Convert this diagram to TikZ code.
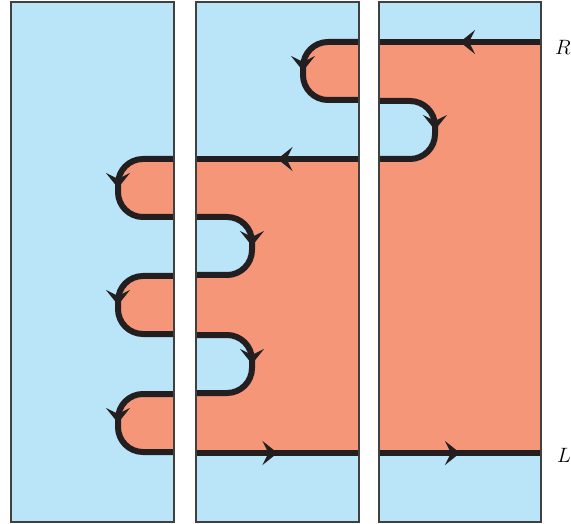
\documentclass[tikz,border=0pt]{standalone}
\usetikzlibrary{arrows.meta,decorations.markings}

\definecolor{skyblue}{RGB}{186,228,248}
\definecolor{salmon}{RGB}{246,150,121}
\definecolor{curveblack}{RGB}{35,31,32}

% one U-turn of the curve: start on a strip edge at (#1,#2), bulge 56 wide in direction #3
\newcommand\uturn[3]{%
    (#1,#2) -- (#1+#3*31,#2)
    .. controls (#1+#3*44.8,#2) and (#1+#3*56,#2+11.2) .. (#1+#3*56,#2+25)
    -- (#1+#3*56,#2+33)
    .. controls (#1+#3*56,#2+46.8) and (#1+#3*44.8,#2+58) .. (#1+#3*31,#2+58)
    -- (#1,#2+58)}

\begin{document}
\begin{tikzpicture}[
        x=1pt, y=-1pt,
        strip/.style={draw=black!75, line width=1.5pt},
        curve/.style={
            curveblack, line width=6pt,
            postaction={decorate},
            decoration={markings, mark=at position 0.5 with
                {\arrow{Stealth[length=15pt, width=24pt, inset=6pt]}}}
        },
        label/.style={font=\huge}
    ]
        \useasboundingbox (0,0) rectangle (571,524);

        % strips
        \foreach \x/\w in {11/163, 196/163, 379/162} {
            \fill[skyblue] (\x,2) rectangle ++(\w,520);
        }

        % regions
        \fill[salmon] (379,42) rectangle (541,453);
        \fill[skyblue] \uturn{379}{101}{1} -- cycle;
        \fill[salmon] (196,159) rectangle (359,453);
        \fill[salmon] \uturn{359}{42}{-1} -- cycle;
        \foreach \y in {217,335} {
            \fill[skyblue] \uturn{196}{\y}{1} -- cycle;
        }
        \foreach \y in {159,276,394} {
            \fill[salmon] \uturn{174}{\y}{-1} -- cycle;
        }

        % the curve
        \draw[curve] (541,42) -- (379,42);
        \draw[curve] \uturn{359}{42}{-1};
        \draw[curve] \uturn{379}{101}{1};
        \draw[curve] (359,159) -- (196,159);
        \foreach \y in {159,276,394} {
            \draw[curve] \uturn{174}{\y}{-1};
        }
        \foreach \y in {217,335} {
            \draw[curve] \uturn{196}{\y}{1};
        }
        \draw[curve] (196,453) -- (359,453);
        \draw[curve] (379,453) -- (541,453);

        % strip borders
        \foreach \x/\w in {11/163, 196/163, 379/162} {
            \draw[strip] (\x,2) rectangle ++(\w,520);
        }

        \node[label] (R) at (563,47) {$R$};
        \node[label] (L) at (564,455) {$L$};
    \end{tikzpicture}
\end{document}
